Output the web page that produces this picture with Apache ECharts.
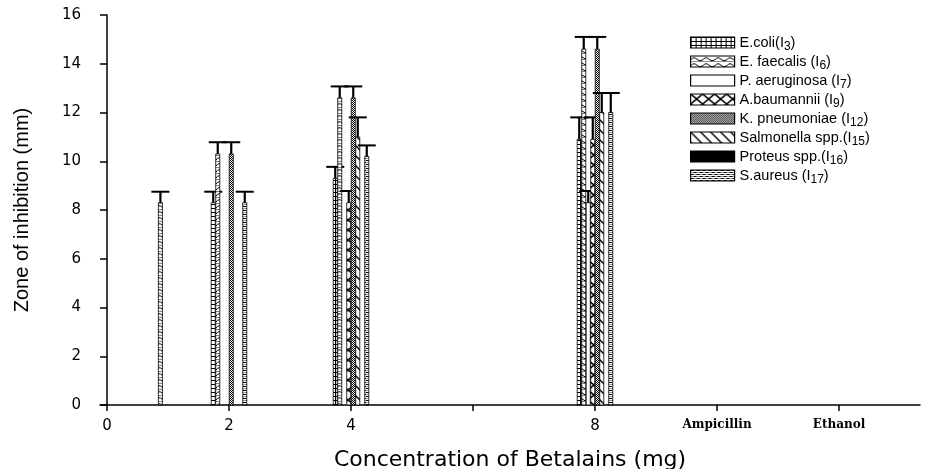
<!DOCTYPE html>
<html><head><meta charset="utf-8">
<script src="https://cdn.jsdelivr.net/npm/echarts@6/dist/echarts.min.js"></script>
<style>html,body{margin:0;padding:0;background:#fff}#c{width:927px;height:469px}</style>
</head><body><div id="c"></div>
<script>
// ---- data ----
const categories = ['0', '2', '4', '', '8', 'Ampicillin', 'Ethanol'];
const groupX = [0.53, 1, 2, 4]; // category positions where bar groups stand
const seriesNames = ['E.coli(I3)', 'E. faecalis (I6)', 'P. aeruginosa (I7)', 'A.baumannii (I9)',
  'K. pneumoniae (I12)', 'Salmonella spp.(I15)', 'Proteus spp.(I16)', 'S.aureus (I17)'];
const legendLabels = ['E.coli(I{s|3})', 'E. faecalis (I{s|6})', 'P. aeruginosa (I{s|7})', 'A.baumannii (I{s|9})',
  'K. pneumoniae (I{s|12})', 'Salmonella spp.(I{s|15})', 'Proteus spp.(I{s|16})', 'S.aureus (I{s|17})'];
const ecoli       = [null, 8.3, 9.3, 10.9];
const ecoliErr    = [null, 0.45, 0.47, 0.9];
const faecalis    = [8.3, 10.3, 12.6, 14.6];
const faecalisErr = [0.45, 0.48, 0.47, 0.5];
const aerug       = [null, null, null, 8.3];
const aerugErr    = [null, null, null, 0.48];
const baum        = [null, null, 8.3, 10.9];
const baumErr     = [null, null, 0.48, 0.9];
const pneu        = [null, 10.3, 12.6, 14.6];
const pneuErr     = [null, 0.48, 0.47, 0.5];
const salm        = [null, null, 11.0, 12.0];
const salmErr     = [null, null, 0.8, 0.8];
const proteus     = [null, null, null, null];
const proteusErr  = [null, null, null, null];
const aureus      = [null, 8.3, 10.2, 12.0];
const aureusErr   = [null, 0.45, 0.45, 0.8];
const values = [ecoli, faecalis, aerug, baum, pneu, salm, proteus, aureus];
const errors = [ecoliErr, faecalisErr, aerugErr, baumErr, pneuErr, salmErr, proteusErr, aureusErr];

// ---- patterns ----
function tile(w, h, draw) {
  const c = document.createElement('canvas'); c.width = w; c.height = h;
  const g = c.getContext('2d'); g.fillStyle = '#fff'; g.fillRect(0, 0, w, h);
  g.strokeStyle = '#000'; g.fillStyle = '#000'; draw(g, w, h);
  return { image: c, repeat: 'repeat' };
}
const patterns = [
  tile(5, 4, (g) => { g.fillRect(0, 0, 5, 1); g.fillRect(0, 0, 1, 4); }),
  tile(12, 6, (g) => { g.lineWidth = 1; g.beginPath(); g.moveTo(0, 4); g.quadraticCurveTo(3, 0, 6, 3); g.quadraticCurveTo(9, 6, 12, 4); g.stroke(); g.fillStyle='#888'; g.fillRect(0,5,12,1); }),
  tile(4, 4, () => {}),
  tile(12, 10, (g) => { g.lineWidth = 1.6; g.beginPath(); g.moveTo(0, 0); g.lineTo(12, 10); g.moveTo(12, 0); g.lineTo(0, 10); g.stroke(); }),
  tile(2, 2, (g) => { g.fillRect(0, 0, 1, 1); g.fillRect(1, 1, 1, 1); }),
  tile(10, 10, (g) => { g.lineWidth = 1.4; g.beginPath(); g.moveTo(-1, -1); g.lineTo(11, 11); g.moveTo(-6, 4); g.lineTo(6, 16); g.moveTo(4, -6); g.lineTo(16, 6); g.stroke(); }),
  tile(2, 2, (g) => { g.fillRect(0, 0, 2, 2); }),
  tile(6, 4, (g) => { g.fillRect(0, 0, 3, 1); g.fillRect(3, 2, 3, 1); g.fillStyle='#999'; g.fillRect(3,0,3,1); g.fillRect(0,2,3,1); })
];

const STEP = 0.0369; // slot of one bar within a group, in axis units
function renderItem(params, api) {
  const x = api.value(0), y = api.value(1), e = api.value(2);
  const c = x + (params.seriesIndex - 3.5) * STEP;
  const tl = api.coord([c - STEP * 0.45, y]);
  const br = api.coord([c + STEP * 0.45, 0]);
  const mid = api.coord([c, y]);
  const top = api.coord([c, y + e]);
  return {
    type: 'group',
    children: [
      { type: 'rect', shape: { x: tl[0], y: tl[1], width: br[0] - tl[0], height: br[1] - tl[1] },
        style: { fill: patterns[params.seriesIndex], stroke: '#000', lineWidth: 0.8 } },
      { type: 'line', shape: { x1: mid[0], y1: mid[1], x2: mid[0], y2: top[1] }, style: { stroke: '#000', lineWidth: 2.2 } },
      { type: 'line', shape: { x1: mid[0] - 9, y1: top[1], x2: mid[0] + 9, y2: top[1] }, style: { stroke: '#000', lineWidth: 2 } }
    ]
  };
}

const series = seriesNames.map((name, si) => ({
  name, type: 'custom', renderItem,
  itemStyle: { color: patterns[si], borderColor: '#000', borderWidth: 1 },
  encode: { x: 0, y: 1 },
  data: groupX.map((gx, i) => values[si][i] == null ? null : [gx, values[si][i], errors[si][i]]).filter(d => d)
}));

const chart = echarts.init(document.getElementById('c'));
chart.setOption({
  animation: false,
  backgroundColor: '#fff',
  grid: { left: 100, right: 7, top: 15, bottom: 64, outerBoundsMode: 'none', containLabel: false },
  legend: {
    orient: 'vertical', left: 685, top: 30, itemWidth: 44, itemHeight: 11, itemGap: 1.5,
    icon: 'rect', data: seriesNames,
    itemStyle: { borderColor: '#000', borderWidth: 1.2 },
    formatter: (n) => legendLabels[seriesNames.indexOf(n)],
    textStyle: { fontFamily: 'Liberation Sans', fontSize: 14.5, color: '#000',
      rich: { s: { fontFamily: 'Liberation Sans', fontSize: 12, color: '#000', padding: [8, 0, 0, 0] } } }
  },
  xAxis: {
    type: 'value', min: -7 / 122, max: 813 / 122,
    splitLine: { show: false },
    axisLine: { lineStyle: { color: '#000', width: 1.5 } },
    axisTick: { length: 6, lineStyle: { color: '#000', width: 1.5 }, customValues: [0, 1, 2, 3, 4, 5, 6] },
    axisLabel: {
      customValues: [0, 1, 2, 4, 5, 6], margin: 14,
      formatter: (v) => { const t = categories[Math.round(v)]; return /^\d+$/.test(t) ? '{n|' + t + '}' : '{w|' + t + '}'; },
      rich: {
        n: { fontFamily: 'DejaVu Sans', fontSize: 15, color: '#000' },
        w: { fontFamily: 'DejaVu Serif', fontWeight: 'bold', fontSize: 12, color: '#000' }
      }
    },
    name: 'Concentration of Betalains (mg)', nameLocation: 'middle', nameGap: 44,
    nameTextStyle: { fontFamily: 'DejaVu Sans', fontSize: 22, color: '#000' }
  },
  yAxis: {
    type: 'value', min: 0, max: 16, interval: 2,
    splitLine: { show: false },
    axisLine: { show: true, lineStyle: { color: '#000', width: 1.5 } },
    axisTick: { show: true, length: 7, lineStyle: { color: '#000', width: 1.5 } },
    axisLabel: { fontFamily: 'DejaVu Sans', fontSize: 15, color: '#000', margin: 19 },
    name: 'Zone of inhibition (mm)', nameLocation: 'middle', nameGap: 68,
    nameTextStyle: { fontFamily: 'Liberation Sans', fontSize: 20, color: '#000' }
  },
  series
});
</script></body></html>
